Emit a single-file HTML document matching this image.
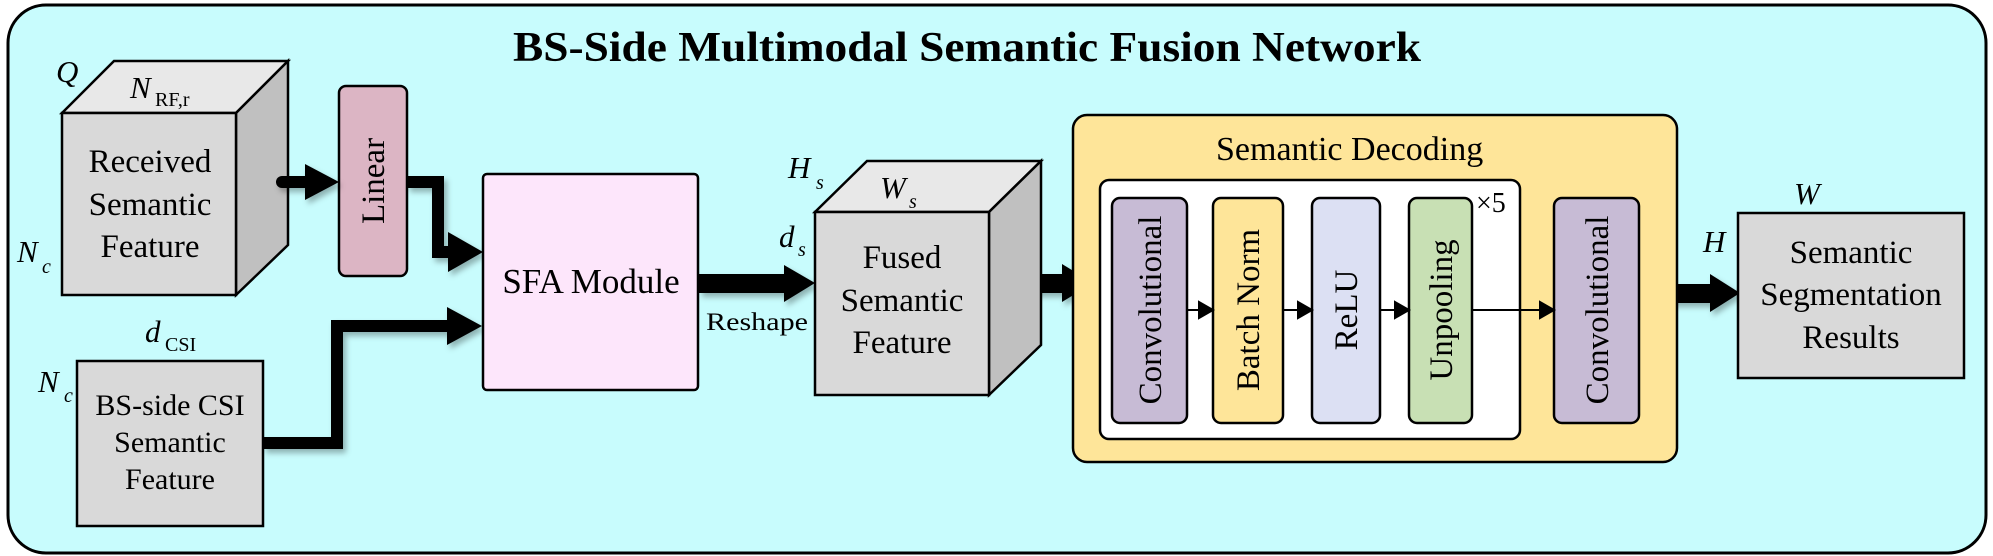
<!DOCTYPE html>
<html><head><meta charset="utf-8"><style>
html,body{margin:0;padding:0;background:#fff}
svg{display:block}
text{font-family:"Liberation Serif",serif;fill:#000}
.b{font-size:33px}
.i{font-style:italic;font-size:31px}
.s{font-size:20px}
</style></head><body>
<svg width="1993" height="556" viewBox="0 0 1993 556" xmlns="http://www.w3.org/2000/svg">
<defs>
<filter id="sh" x="-20%" y="-20%" width="140%" height="140%"><feDropShadow dx="3" dy="4" stdDeviation="3" flood-color="#000" flood-opacity="0.3"/></filter>
</defs>
<rect x="8" y="5" width="1978" height="548" rx="38" fill="#c8fcfd" stroke="#000" stroke-width="3"/>
<text x="513" y="61" textLength="908" lengthAdjust="spacingAndGlyphs" style="font-weight:bold;font-size:42px">BS-Side Multimodal Semantic Fusion Network</text>

<!-- Cube 1 -->
<g stroke="#000" stroke-width="2.5">
<polygon points="62,113 114,61 288,61 236,113" fill="#e8e8e8"/>
<polygon points="236,113 288,61 288,245 236,295" fill="#c0c0c0"/>
<rect x="62" y="113" width="174" height="182" fill="#d9d9d9"/>
</g>
<text class="b" x="150" y="172" text-anchor="middle">Received</text>
<text class="b" x="150" y="215" text-anchor="middle">Semantic</text>
<text class="b" x="150" y="257" text-anchor="middle">Feature</text>
<text class="i" x="56" y="82">Q</text>
<text class="i" x="130" y="98">N</text><text class="s" x="155" y="106">RF,r</text>
<text class="i" x="17" y="262">N</text><text class="s" x="42" y="273" font-style="italic">c</text>

<!-- Linear -->
<rect x="339" y="86" width="68" height="190" rx="7" fill="#dcb5c4" stroke="#000" stroke-width="2.5"/>
<text class="b" transform="translate(384,181) rotate(-90)" text-anchor="middle">Linear</text>

<!-- thick arrows -->
<g filter="url(#sh)">
<path d="M282,182 L310,182" stroke="#000" stroke-width="12" stroke-linecap="round" fill="none"/>
<polygon points="305,164 339,182 305,200" fill="#000"/>
<path d="M407,182 L438,182 L438,252 L452,252" stroke="#000" stroke-width="12" fill="none"/>
<polygon points="448,232 483,252 448,272" fill="#000"/>
<path d="M263,443 L337,443 L337,326 L452,326" stroke="#000" stroke-width="12" fill="none"/>
<polygon points="447,307 482,326 447,345" fill="#000"/>
<rect x="699" y="274" width="87" height="19" fill="#000"/>
<polygon points="784,265 815,283 784,302" fill="#000"/>
<rect x="1012" y="274" width="52" height="19" fill="#000"/>
<polygon points="1062,264 1093,283 1062,302" fill="#000"/>
<rect x="1649" y="284" width="63" height="19" fill="#000"/>
<polygon points="1710,274 1740,293 1710,312" fill="#000"/>
</g>

<!-- SFA -->
<rect x="483" y="174" width="215" height="216" rx="4" fill="#fde6fb" stroke="#000" stroke-width="2.5"/>
<text class="b" x="591" y="293" text-anchor="middle" style="font-size:35px">SFA Module</text>

<!-- CSI -->
<rect x="77" y="361" width="186" height="165" fill="#d9d9d9" stroke="#000" stroke-width="2.5"/>
<text x="170" y="415" text-anchor="middle" style="font-size:30px">BS-side CSI</text>
<text x="170" y="452" text-anchor="middle" style="font-size:30px">Semantic</text>
<text x="170" y="489" text-anchor="middle" style="font-size:30px">Feature</text>
<text class="i" x="145" y="342">d</text><text class="s" x="165" y="351">CSI</text>
<text class="i" x="38" y="392">N</text><text class="s" x="64" y="402" font-style="italic">c</text>

<text x="706" y="330" textLength="102" lengthAdjust="spacingAndGlyphs" style="font-size:25px">Reshape</text>

<!-- Cube 2 -->
<g stroke="#000" stroke-width="2.5">
<polygon points="815,212 867,161 1041,161 989,212" fill="#e8e8e8"/>
<polygon points="989,212 1041,161 1041,345 989,395" fill="#c0c0c0"/>
<rect x="815" y="212" width="174" height="183" fill="#d9d9d9"/>
</g>
<text class="b" x="902" y="268" text-anchor="middle">Fused</text>
<text class="b" x="902" y="311" text-anchor="middle">Semantic</text>
<text class="b" x="902" y="353" text-anchor="middle">Feature</text>
<text class="i" x="788" y="178">H</text><text class="s" x="816" y="189" font-style="italic">s</text>
<text class="i" x="880" y="198">W</text><text class="s" x="909" y="208" font-style="italic">s</text>
<text class="i" x="779" y="247">d</text><text class="s" x="798" y="256" font-style="italic">s</text>

<!-- Decoding -->
<rect x="1073" y="115" width="604" height="347" rx="14" fill="#fee599" stroke="#000" stroke-width="2.5"/>
<text x="1216" y="160" style="font-size:34px">Semantic Decoding</text>
<rect x="1100" y="180" width="420" height="259" rx="9" fill="#fff" stroke="#000" stroke-width="2.5"/>
<g stroke="#000" stroke-width="2.5">
<rect x="1112" y="198" width="75" height="225" rx="8" fill="#c7bbd5"/>
<rect x="1213" y="198" width="70" height="225" rx="8" fill="#fee599"/>
<rect x="1312" y="198" width="68" height="225" rx="8" fill="#dce0f3"/>
<rect x="1409" y="198" width="63" height="225" rx="8" fill="#c8e0b4"/>
<rect x="1554" y="198" width="85" height="225" rx="8" fill="#c7bbd5"/>
</g>
<g fill="#000" stroke="#000" stroke-width="2">
<line x1="1187" y1="310" x2="1200" y2="310"/><polygon points="1199,302 1213,310 1199,318"/>
<line x1="1283" y1="310" x2="1300" y2="310"/><polygon points="1298,302 1312,310 1298,318"/>
<line x1="1380" y1="310" x2="1396" y2="310"/><polygon points="1395,302 1409,310 1395,318"/>
<line x1="1472" y1="310" x2="1541" y2="310"/><polygon points="1540,302 1554,310 1540,318"/>
</g>
<text class="b" transform="translate(1161,310) rotate(-90)" text-anchor="middle">Convolutional</text>
<text class="b" transform="translate(1259,310) rotate(-90)" text-anchor="middle">Batch Norm</text>
<text class="b" transform="translate(1357,310) rotate(-90)" text-anchor="middle">ReLU</text>
<text class="b" transform="translate(1452,310) rotate(-90)" text-anchor="middle">Unpooling</text>
<text class="b" transform="translate(1608,310) rotate(-90)" text-anchor="middle">Convolutional</text>
<text x="1476" y="212" style="font-size:28px">×5</text>

<!-- Result -->
<rect x="1738" y="213" width="226" height="165" fill="#d9d9d9" stroke="#000" stroke-width="2.5"/>
<text class="b" x="1851" y="263" text-anchor="middle">Semantic</text>
<text class="b" x="1851" y="305" text-anchor="middle">Segmentation</text>
<text class="b" x="1851" y="348" text-anchor="middle">Results</text>
<text class="i" x="1794" y="204">W</text>
<text class="i" x="1703" y="252">H</text>
</svg>
</body></html>
